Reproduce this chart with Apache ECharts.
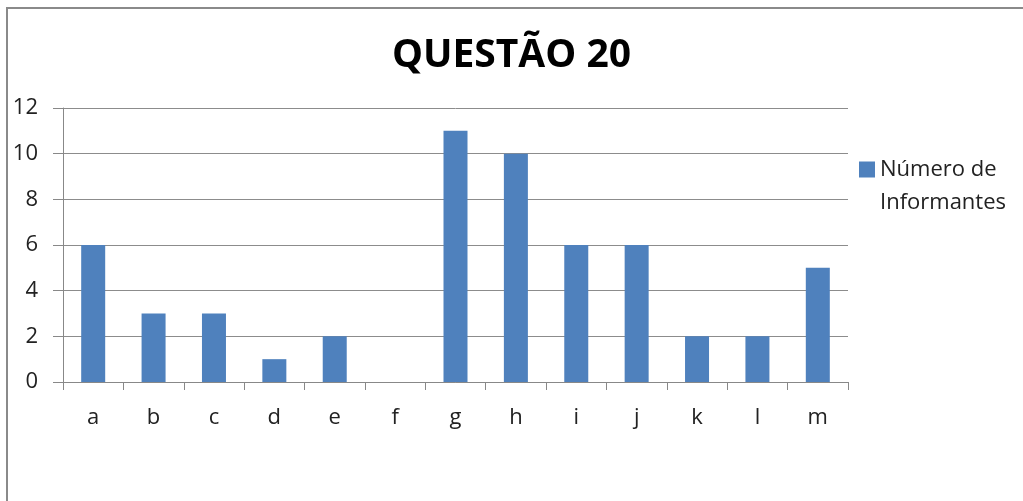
<!DOCTYPE html>
<html>
<head>
<meta charset="utf-8">
<script src="https://cdn.jsdelivr.net/npm/echarts@6/dist/echarts.min.js"></script>
<style>
  html, body { margin: 0; padding: 0; background: #fff; overflow: hidden; }
  #frame {
    position: absolute; left: 6px; top: 7px; width: 1100px; height: 600px;
    border-top: 2px solid #8a8a8a; border-left: 2px solid #8a8a8a;
  }
  #chart { position: absolute; left: 0; top: 0; width: 1023px; height: 501px; }
</style>
</head>
<body>
<div id="frame"></div>
<div id="chart"></div>
<script>
const categories = ['a', 'b', 'c', 'd', 'e', 'f', 'g', 'h', 'i', 'j', 'k', 'l', 'm']
const informantes = [6, 3, 3, 1, 2, 0, 11, 10, 6, 6, 2, 2, 5]
const seriesName = 'Número de Informantes'

const chart = echarts.init(document.getElementById('chart'))
const font = 'Open Sans, Noto Sans, sans-serif'

chart.setOption({
  animation: false,
  title: {
    text: 'QUESTÃO 20',
    left: 'center',
    top: 31,
    textStyle: { fontFamily: font, fontSize: 39, fontWeight: 'bold', color: '#000' }
  },
  legend: {
    orient: 'vertical',
    left: 859,
    top: 120,
    padding: 0,
    icon: 'rect',
    itemWidth: 16,
    itemHeight: 16,
    // empty first line so the text block's first real line sits beside the square
    formatter: () => '\nNúmero de\nInformantes',
    textStyle: { fontFamily: font, fontSize: 22, color: '#222', lineHeight: 33 },
    data: [seriesName]
  },
  grid: { left: 63, right: 175, top: 108, bottom: 119 },
  xAxis: {
    type: 'category',
    data: categories,
    axisLine: { lineStyle: { color: '#888', width: 1 } },
    axisTick: { show: true, length: 8, lineStyle: { color: '#888' } },
    axisLabel: { margin: 25, fontFamily: font, fontSize: 22, color: '#222' }
  },
  yAxis: {
    type: 'value',
    min: 0,
    max: 12,
    interval: 2,
    axisLine: { show: true, lineStyle: { color: '#888' } },
    axisTick: { show: true, length: 10, lineStyle: { color: '#888' } },
    axisLabel: { margin: 25, fontFamily: font, fontSize: 22, color: '#222' },
    splitLine: { lineStyle: { color: '#8c8c8c', width: 1 } }
  },
  series: [{
    name: seriesName,
    type: 'bar',
    data: informantes,
    barWidth: 24,
    itemStyle: { color: '#4f81bd' }
  }]
})
</script>
</body>
</html>
